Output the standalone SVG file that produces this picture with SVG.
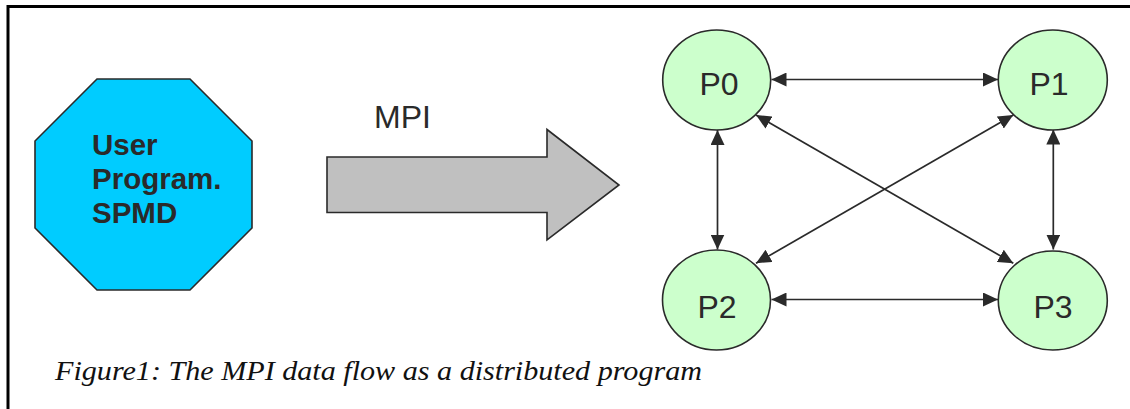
<svg xmlns="http://www.w3.org/2000/svg" width="1130" height="409" viewBox="0 0 1130 409">
  <defs>
    <style>
      .frame { stroke: #000; stroke-width: 3; fill: none; }
      .proc { fill: #CCFFCC; stroke: #2a2a2a; stroke-width: 1.6; }
      .plabel { font-family: "Liberation Sans", Arial, sans-serif; font-size: 32px; fill: #2a2a2a; text-anchor: middle; }
      .link { stroke: #2a2a2a; stroke-width: 1.7; fill: none; marker-start: url(#head); marker-end: url(#head); }
      .caption { font-family: "Liberation Serif", "Times New Roman", serif; font-style: italic; font-size: 28px; fill: #111; }
    </style>
    <marker id="head" viewBox="0 0 15 14" refX="15" refY="7" markerWidth="15" markerHeight="14" markerUnits="userSpaceOnUse" orient="auto-start-reverse">
      <path d="M0,0 L15,7 L0,14 Z" fill="#2a2a2a"/>
    </marker>
  </defs>

  <rect width="1130" height="409" fill="#fff"/>
  <!-- figure frame: top and left rules -->
  <path class="frame" d="M8,409 V6.5 H1130"/>

  <!-- user program octagon -->
  <g id="user-program">
    <polygon points="97,79 190,79 252,141 252,228 190,290 97,290 35,228 35,141" fill="#00CCFF" stroke="#2a2a2a" stroke-width="1.6"/>
    <text font-family="Liberation Sans, Arial, sans-serif" font-weight="bold" font-size="29.5" fill="#2a2a2a">
      <tspan x="92" y="155">User</tspan>
      <tspan x="92" y="189">Program.</tspan>
      <tspan x="92" y="223">SPMD</tspan>
    </text>
  </g>

  <!-- MPI block arrow -->
  <g id="mpi-arrow">
    <polygon points="327,157 547,157 547,129.5 619,185 547,240 547,212.5 327,212.5" fill="#C0C0C0" stroke="#2a2a2a" stroke-width="1.6"/>
    <text x="374" y="128" font-family="Liberation Sans, Arial, sans-serif" font-size="32" fill="#2a2a2a">MPI</text>
  </g>

  <!-- links between processes -->
  <g id="connectors">
    <line class="link" x1="771.5" y1="79.5" x2="998" y2="79.5"/>
    <line class="link" x1="771.5" y1="299.5" x2="998" y2="299.5"/>
    <line class="link" x1="717.5" y1="130" x2="717.5" y2="249.5"/>
    <line class="link" x1="1053.3" y1="129.5" x2="1053.3" y2="249.5"/>
    <line class="link" x1="756" y1="115" x2="1013.3" y2="263.3"/>
    <line class="link" x1="1013.3" y1="115" x2="756" y2="263.3"/>
  </g>

  <g id="P0">
    <ellipse class="proc" cx="716.7" cy="80" rx="54" ry="50"/>
    <text class="plabel" x="719" y="95">P0</text>
  </g>
  <g id="P1">
    <ellipse class="proc" cx="1052.8" cy="80" rx="54.5" ry="50"/>
    <text class="plabel" x="1049" y="95">P1</text>
  </g>
  <g id="P2">
    <ellipse class="proc" cx="716.5" cy="300" rx="54" ry="50"/>
    <text class="plabel" x="717" y="318">P2</text>
  </g>
  <g id="P3">
    <ellipse class="proc" cx="1052.8" cy="300.5" rx="54.5" ry="49.5"/>
    <text class="plabel" x="1053" y="318">P3</text>
  </g>

  <text class="caption" x="55" y="380" textLength="647" lengthAdjust="spacingAndGlyphs">Figure1: The MPI data flow as a distributed program</text>
</svg>
